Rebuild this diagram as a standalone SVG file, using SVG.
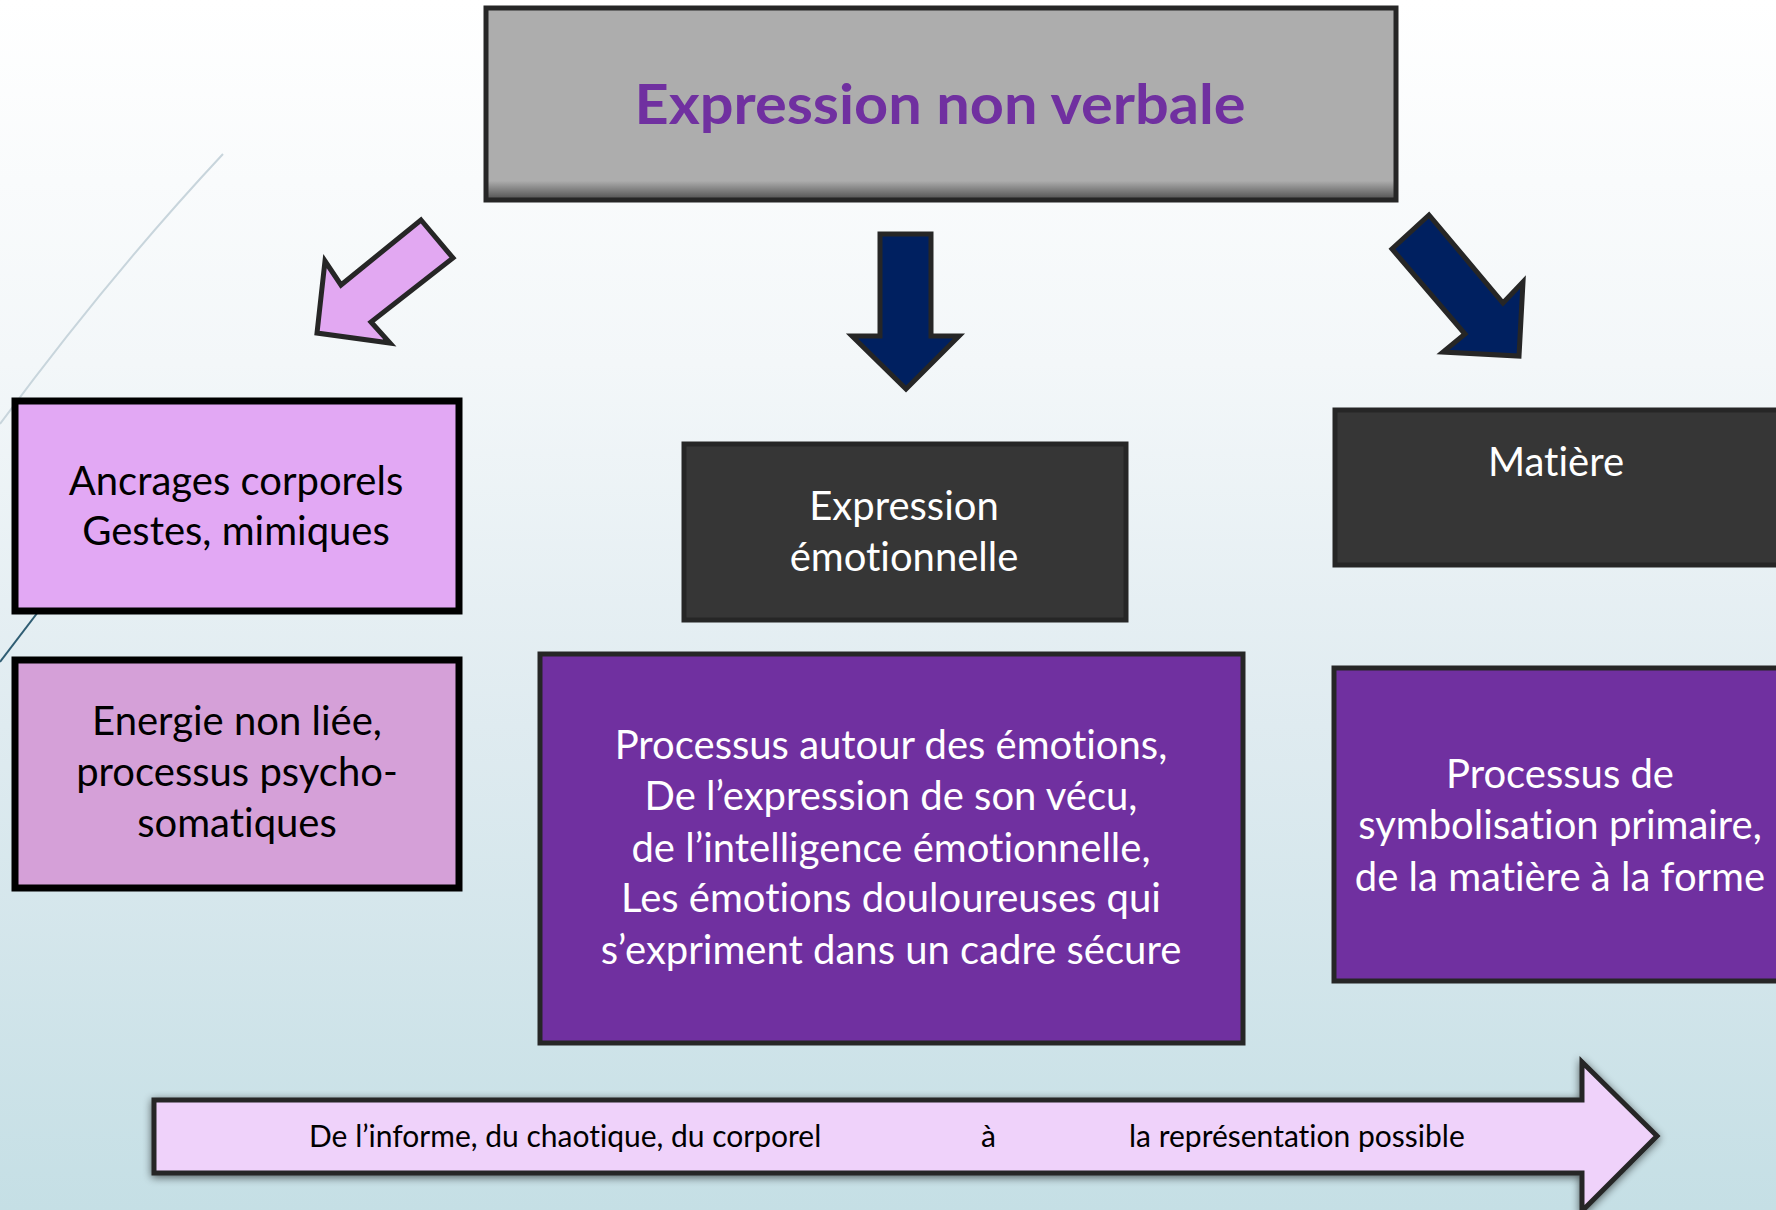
<svg xmlns="http://www.w3.org/2000/svg" width="1776" height="1210" viewBox="0 0 1776 1210">
<defs>
<linearGradient id="bg" x1="0" y1="0" x2="0" y2="1">
<stop offset="0" stop-color="#ffffff"/>
<stop offset="0.3" stop-color="#f3f7f9"/>
<stop offset="0.6" stop-color="#dfebf0"/>
<stop offset="1" stop-color="#c5dfe5"/>
</linearGradient>
<linearGradient id="topg" x1="0" y1="0" x2="0" y2="1">
<stop offset="0" stop-color="#adadad"/>
<stop offset="0.9" stop-color="#adadad"/>
<stop offset="1" stop-color="#4e4e4e"/>
</linearGradient>
<filter id="sh" x="-5%" y="-40%" width="110%" height="180%">
<feGaussianBlur in="SourceAlpha" stdDeviation="4"/>
<feOffset dx="0" dy="2" result="b"/>
<feComponentTransfer><feFuncA type="linear" slope="0.6"/></feComponentTransfer>
<feMerge><feMergeNode/><feMergeNode in="SourceGraphic"/></feMerge>
</filter>
<style>
.t{font-family:Lato,"Open Sans","Liberation Sans",sans-serif;text-anchor:middle;font-size:40px;font-variant-ligatures:none}
.s{text-anchor:start;font-size:30px}
.w{fill:#ffffff}
.k{fill:#000000}
.dark{fill:#363636;stroke:#262626;stroke-width:5}
.purp{fill:#7030a0;stroke:#262626;stroke-width:5}
.pink{stroke:#000000;stroke-width:7}
.navy{fill:#002060;stroke:#262626;stroke-width:5;stroke-linejoin:miter}
</style>
</defs>
<rect x="0" y="0" width="1776" height="1210" fill="url(#bg)"/>
<g id="decor">
<path d="M223,154 Q110,275 0,424" fill="none" stroke="#c8d5dc" stroke-width="2"/>
<path d="M70,570 L0,662" fill="none" stroke="#2f5d73" stroke-width="2"/>
</g>
<g id="connectors">
<polygon points="421,220 453,258 371,322 390,343 317,333 325,261 341,285" fill="#e2a8f2" stroke="#262626" stroke-width="5"/>
<polygon class="navy" points="880,234 931,234 931,336 959,336 906,389 852,336 880,336"/>
<polygon class="navy" points="1429,215 1392,249 1465,334 1443,352 1519,356 1523,282 1503,303"/>
<g id="progress" filter="url(#sh)">
<polygon points="154,1100 1582,1100 1582,1062 1657,1136 1582,1211 1582,1173 154,1173" fill="#efd2fa" stroke="#262626" stroke-width="5"/>
</g>
<text class="t k s" x="309" y="1147">De l’informe, du chaotique, du corporel</text>
<text class="t k s" x="981" y="1147">à</text>
<text class="t k s" x="1129" y="1147">la représentation possible</text>
</g>
<g id="top">
<rect x="486" y="8" width="910" height="192" fill="url(#topg)" stroke="#262626" stroke-width="5"/>
<text x="940" y="124" font-family="Lato,'Open Sans','Liberation Sans',sans-serif" font-weight="bold" font-size="56" fill="#7030a0" text-anchor="middle" textLength="611" lengthAdjust="spacingAndGlyphs">Expression non verbale</text>
</g>
<g id="ancrages">
<rect class="pink" x="15" y="401" width="444" height="210" fill="#e2a8f4"/>
<text class="t k" x="236" y="495">Ancrages corporels</text>
<text class="t k" x="236" y="545">Gestes, mimiques</text>
</g>
<g id="energie">
<rect class="pink" x="15" y="660" width="444" height="228" fill="#d5a0d8"/>
<text class="t k" x="237" y="735">Energie non liée,</text>
<text class="t k" x="237" y="786">processus psycho-</text>
<text class="t k" x="237" y="837">somatiques</text>
</g>
<g id="expr-emo">
<rect class="dark" x="684" y="444" width="442" height="176"/>
<text class="t w" x="904" y="520">Expression</text>
<text class="t w" x="904" y="571">émotionnelle</text>
</g>
<g id="processus-emo">
<rect class="purp" x="540" y="654" width="703" height="389"/>
<text class="t w" x="891" y="759">Processus autour des émotions,</text>
<text class="t w" x="891" y="810">De l’expression de son vécu,</text>
<text class="t w" x="891" y="862">de l’intelligence émotionnelle,</text>
<text class="t w" x="891" y="912">Les émotions douloureuses qui</text>
<text class="t w" x="891" y="964">s’expriment dans un cadre sécure</text>
</g>
<g id="matiere">
<rect class="dark" x="1335" y="410" width="460" height="155"/>
<text class="t w" x="1556" y="476">Matière</text>
</g>
<g id="symbolisation">
<rect class="purp" x="1334" y="668" width="460" height="313"/>
<text class="t w" x="1560" y="788">Processus de</text>
<text class="t w" x="1560" y="839">symbolisation primaire,</text>
<text class="t w" x="1560" y="891">de la matière à la forme</text>
</g>
</svg>
